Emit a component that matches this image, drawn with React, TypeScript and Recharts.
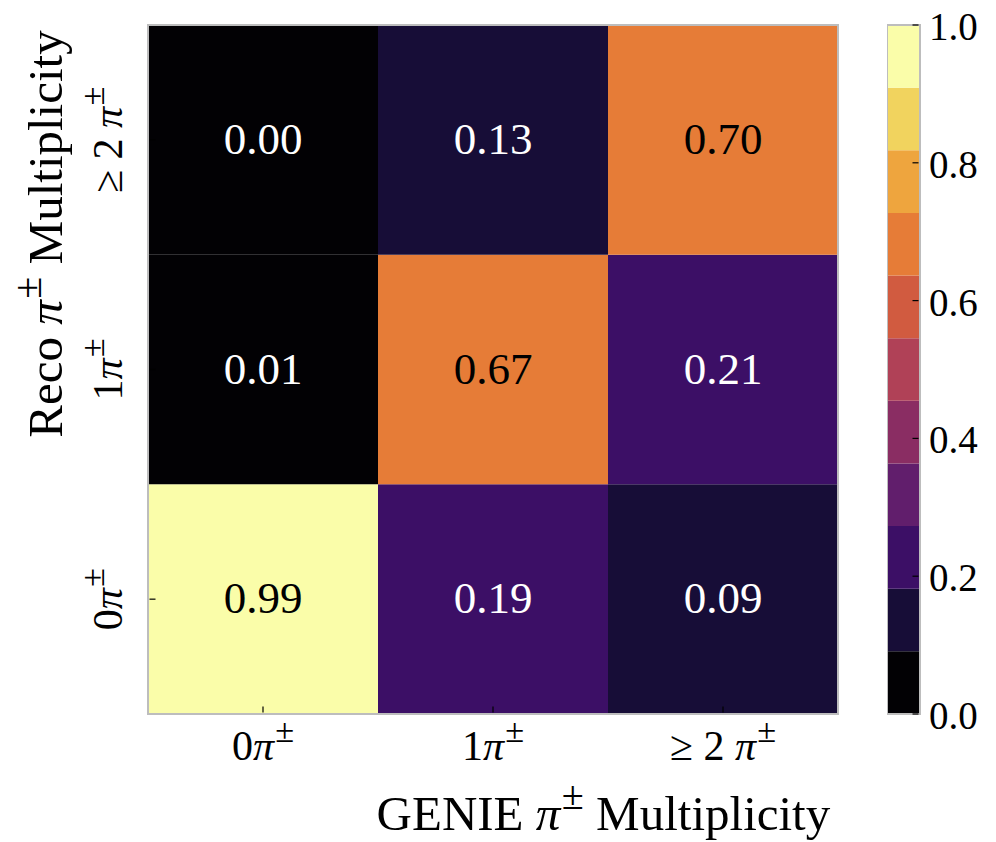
import React from 'react';
import { ComposedChart, XAxis, YAxis, ReferenceArea, Scatter } from 'recharts';

// ---- data ----
const genieCategories = ['0π±', '1π±', '≥ 2 π±'];
const recoCategories = ['0π±', '1π±', '≥ 2 π±'];
// rows = reco multiplicity (bottom to top), columns = GENIE multiplicity
const reco0pi = [0.99, 0.19, 0.093];
const reco1pi = [0.01, 0.67, 0.21];
const reco2pi = [0.0, 0.13, 0.7];
const colorbarTicks = [0, 0.2, 0.4, 0.6, 0.8, 1.0];
const binColors = [
  '#020104', '#170d37', '#3c0f66', '#611e6c', '#8a2d63', '#b04157',
  '#d15b40', '#e67c37', '#eea53e', '#f1d35e', '#fafda9',
];
const xLabel = 'GENIE π± Multiplicity';
const yLabel = 'Reco π± Multiplicity';

const rows = [reco0pi, reco1pi, reco2pi];
const cells = rows.flatMap((r, ri) =>
  r.map((v, ci) => ({ x: ci + 0.5, y: ri + 0.5, v, col: ci, row: ri }))
);
const catTicks = genieCategories.map((_, i) => i + 0.5);
const nBins = binColors.length;
const colorFor = (v: number) => binColors[Math.min(nBins - 1, Math.floor(v * nBins))];
const bottomTickMarks = catTicks.map((t) => ({ x: t, y: 0 }));
const leftTickMarks = catTicks.map((t) => ({ x: 0, y: t }));
const cbTickMarks = colorbarTicks.map((t) => ({ x: 1, y: t }));

const FONT = '"Liberation Serif", "Times New Roman", serif';
const BORDER = '#bdbdbd';
const TICK = '#000000';
const TL = 6;
const GAP = 1.5;

const renderMath = (s: string, fs: number) => {
  const out: any[] = [];
  let raised = false;
  let buf = '';
  const flush = () => {
    if (buf) {
      out.push(
        <tspan key={out.length} dy={raised ? fs * 0.42 : undefined}>
          {buf}
        </tspan>
      );
      raised = false;
      buf = '';
    }
  };
  for (const ch of s) {
    if (ch === 'π') {
      flush();
      out.push(
        <tspan key={out.length} fontStyle="italic">
          π
        </tspan>
      );
    } else if (ch === '±') {
      flush();
      out.push(
        <tspan key={out.length} dx={fs * 0.03} dy={-fs * 0.42} fontSize={fs * 0.82}>
          ±
        </tspan>
      );
      raised = true;
    } else buf += ch;
  }
  flush();
  return out;
};

const XTick = (props: any) => {
  const { x, y, payload } = props;
  const label = genieCategories[Math.floor(payload.value)];
  return (
    <text x={x} y={y + 46} textAnchor="middle" fontSize={42} fontFamily={FONT} fill="#000">
      {renderMath(label, 42)}
    </text>
  );
};

const YTick = (props: any) => {
  const { x, y, payload } = props;
  const label = recoCategories[Math.floor(payload.value)];
  return (
    <text
      transform={`translate(${x - 26},${y}) rotate(-90)`}
      textAnchor="middle"
      fontSize={42}
      fontFamily={FONT}
      fill="#000"
    >
      {renderMath(label, 42)}
    </text>
  );
};

const CbTick = (props: any) => {
  const { x, y, payload } = props;
  return (
    <text x={x + 9} y={y + 15} fontSize={39} fontFamily={FONT} fill="#000">
      {Number(payload.value).toFixed(1)}
    </text>
  );
};

const TickUp = (props: any) => (
  <line x1={props.cx} x2={props.cx} y1={props.cy - GAP} y2={props.cy - GAP - TL} stroke={TICK} strokeWidth={1.2} />
);
const TickRight = (props: any) => (
  <line x1={props.cx + GAP} x2={props.cx + GAP + TL} y1={props.cy} y2={props.cy} stroke={TICK} strokeWidth={1.2} />
);
const TickLeft = (props: any) => (
  <line x1={props.cx - GAP} x2={props.cx - GAP - TL} y1={props.cy} y2={props.cy} stroke={TICK} strokeWidth={1.2} />
);

const CellText = (props: any) => {
  const { cx, cy, payload } = props;
  return (
    <text
      x={cx}
      y={cy + 14}
      textAnchor="middle"
      fontSize={45}
      fontFamily={FONT}
      fill={payload.v > 0.5 ? '#000000' : '#ffffff'}
    >
      {payload.v.toFixed(2)}
    </text>
  );
};

const XLabel = (p: any) => {
  const vb = p.viewBox || { x: 148, y: 714, width: 690, height: 128 };
  return (
    <text x={vb.x + vb.width * 0.66} y={vb.y + 116} textAnchor="middle" fontSize={49} fontFamily={FONT} fill="#000">
      {renderMath(xLabel, 49)}
    </text>
  );
};

const YLabel = (p: any) => {
  const vb = p.viewBox || { x: 0, y: 25, width: 148, height: 689 };
  return (
    <text
      transform={`translate(${vb.x + 62},${vb.y + 209}) rotate(-90)`}
      textAnchor="middle"
      fontSize={49}
      fontFamily={FONT}
      fill="#000"
    >
      {renderMath(yLabel, 49)}
    </text>
  );
};

export default function App() {
  return (
    <div style={{ position: 'absolute', left: 0, top: 0, width: 996, height: 842, background: '#fff' }}>
      <div style={{ position: 'absolute', left: 0, top: 0 }}>
        <ComposedChart
          width={996}
          height={842}
          data={cells}
          margin={{ top: 25, right: 158, bottom: 0, left: 0 }}
        >
          <XAxis
            dataKey="x"
            type="number"
            domain={[0, 3]}
            ticks={catTicks}
            interval={0}
            height={128}
            tickSize={0}
            tickMargin={0}
            axisLine={false}
            tickLine={false}
            tick={<XTick />}
            label={{ content: (p: any) => <XLabel {...p} /> }}
          />
          <YAxis
            dataKey="y"
            type="number"
            domain={[0, 3]}
            ticks={catTicks}
            interval={0}
            width={148}
            tickSize={0}
            tickMargin={0}
            axisLine={false}
            tickLine={false}
            tick={<YTick />}
            label={{ content: (p: any) => <YLabel {...p} /> }}
          />
          {cells.map((c, i) => (
            <ReferenceArea
              key={i}
              x1={c.col}
              x2={c.col + 1}
              y1={c.row}
              y2={c.row + 1}
              fill={colorFor(c.v)}
              fillOpacity={1}
              stroke="none"
            />
          ))}
          <ReferenceArea x1={0} x2={3} y1={0} y2={3} fill="none" stroke={BORDER} strokeWidth={2} />
          <Scatter data={bottomTickMarks} dataKey="y" isAnimationActive={false} shape={<TickUp />} />
          <Scatter data={leftTickMarks} dataKey="y" isAnimationActive={false} shape={<TickRight />} />
          <Scatter data={cells} dataKey="y" isAnimationActive={false} shape={<CellText />} />
        </ComposedChart>
      </div>
      <div style={{ position: 'absolute', left: 887, top: 0 }}>
        <ComposedChart
          width={109}
          height={842}
          data={binColors.map((c, i) => ({ x: 0.5, y: (i + 0.5) / nBins }))}
          margin={{ top: 25, right: 0, bottom: 128, left: 0 }}
        >
          <XAxis dataKey="x" type="number" domain={[0, 1]} hide />
          <YAxis
            dataKey="y"
            orientation="right"
            type="number"
            domain={[0, 1]}
            ticks={colorbarTicks}
            interval={0}
            width={76}
            tickSize={0}
            tickMargin={0}
            axisLine={false}
            tickLine={false}
            tick={<CbTick />}
          />
          {binColors.map((c, i) => (
            <ReferenceArea
              key={i}
              x1={0}
              x2={1}
              y1={i / nBins}
              y2={(i + 1) / nBins}
              fill={c}
              fillOpacity={1}
              stroke="none"
            />
          ))}
          <ReferenceArea x1={0} x2={1} y1={0} y2={1} fill="none" stroke={BORDER} strokeWidth={2} />
          <Scatter data={cbTickMarks} dataKey="y" isAnimationActive={false} shape={<TickLeft />} />
        </ComposedChart>
      </div>
    </div>
  );
}
